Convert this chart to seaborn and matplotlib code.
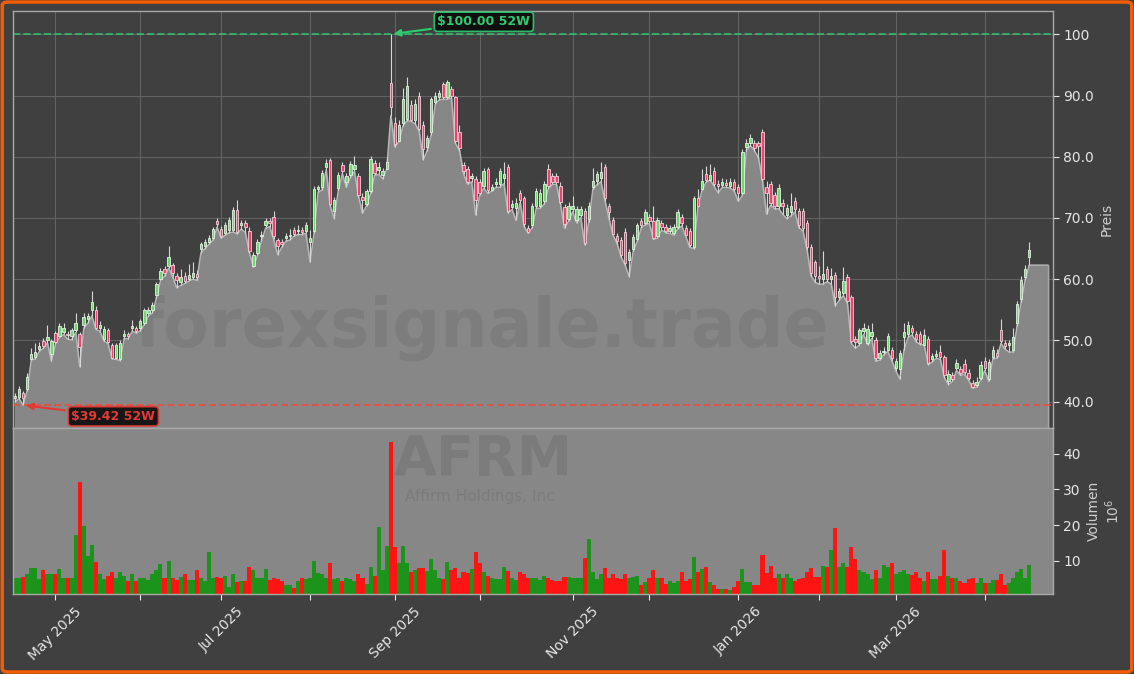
import matplotlib
matplotlib.use("Agg")
import matplotlib.pyplot as plt
import matplotlib.patches as mpatches
import numpy as np
import pandas as pd
import seaborn as sns

sns.set_style("dark")
plt.rcParams["font.family"] = ["DejaVu Sans"]

ticker = "AFRM"
company = "Affirm Holdings, Inc"
watermark = "forexsignale.trade"
first_day = "2025-04-16"
holidays = ["2025-04-18", "2025-05-26", "2025-06-19", "2025-07-04", "2025-09-01",
            "2025-11-27", "2025-12-25", "2026-01-01", "2026-01-19", "2026-02-16",
            "2026-04-03"]

opens = [
    40.6, 40.8, 41.4, 42.1, 47.0, 47.3, 48.6, 49.9, 50.1, 47.8,
    51.2, 50.8, 51.4, 51.1, 50.8, 51.7, 51.0, 52.6, 53.5, 55.0,
    55.0, 52.0, 50.2, 51.7, 49.3, 47.2, 46.9, 50.8, 51.0, 52.1,
    52.0, 52.0, 52.9, 54.4, 54.9, 57.4, 60.1, 61.7, 62.2, 62.3,
    60.5, 59.5, 60.5, 60.1, 60.4, 60.8, 64.9, 65.5, 66.1, 66.8,
    69.5, 68.2, 67.6, 68.0, 68.0, 71.3, 68.8, 69.1, 67.9, 62.2,
    64.3, 67.0, 68.8, 69.5, 70.2, 66.4, 66.1, 66.7, 67.0, 68.0,
    67.8, 68.0, 67.9, 66.0, 67.9, 74.7, 75.0, 78.3, 79.4, 71.1,
    74.9, 78.6, 75.9, 77.0, 78.0, 76.8, 73.5, 72.3, 74.4, 78.9,
    77.9, 77.0, 78.0, 92.1, 85.5, 82.5, 85.5, 86.1, 88.5, 86.0,
    90.0, 85.2, 81.6, 84.0, 89.0, 89.7, 91.8, 89.8, 91.0, 89.7,
    84.0, 78.6, 78.0, 76.5, 76.4, 75.9, 75.3, 78.0, 74.6, 75.6,
    75.6, 76.5, 78.3, 71.8, 71.6, 74.0, 73.2, 68.3, 68.8, 72.0,
    72.0, 72.7, 78.0, 76.8, 76.8, 75.3, 71.8, 69.9, 71.5, 69.6,
    70.5, 71.1, 69.9, 75.0, 76.0, 76.5, 78.3, 72.0, 69.6, 67.0,
    66.4, 67.7, 63.1, 65.0, 66.5, 69.5, 69.2, 70.2, 69.5, 67.0,
    69.2, 68.5, 67.9, 67.5, 68.5, 70.1, 68.3, 67.9, 65.2, 73.2,
    74.8, 77.1, 76.2, 77.6, 75.6, 75.4, 75.7, 75.3, 75.9, 75.0,
    74.0, 81.6, 82.2, 82.3, 82.2, 84.1, 75.0, 75.5, 73.7, 71.9,
    72.5, 70.5, 71.0, 72.8, 71.1, 71.1, 69.1, 65.2, 62.8, 60.5,
    60.0, 61.7, 60.0, 60.7, 57.1, 57.7, 60.3, 57.1, 50.3, 49.6,
    51.5, 49.6, 50.7, 50.1, 47.2, 48.1, 48.5, 48.5, 45.5, 45.3,
    50.5, 51.0, 52.0, 51.1, 51.1, 49.3, 50.2, 46.9, 47.5, 48.1,
    47.3, 43.3, 44.3, 45.5, 45.4, 46.1, 44.7, 43.0, 42.7, 43.9,
    46.7, 43.7, 47.3, 48.0, 51.7, 49.5, 49.3, 48.5, 52.9, 56.8,
    60.4, 63.7,
]
closes = [
    41.0, 42.1, 40.6, 44.1, 47.8, 48.1, 49.1, 49.1, 50.5, 49.9,
    49.7, 52.3, 52.1, 50.9, 51.7, 52.9, 49.0, 53.9, 54.0, 56.2,
    52.0, 52.6, 51.9, 49.7, 47.2, 49.3, 49.6, 51.1, 50.7, 52.4,
    51.5, 53.1, 55.0, 54.9, 55.8, 59.2, 61.4, 61.0, 63.7, 61.0,
    59.8, 60.4, 59.7, 60.7, 61.0, 60.3, 65.8, 66.1, 66.7, 68.2,
    69.0, 67.0, 68.8, 69.6, 71.3, 67.7, 69.2, 68.5, 64.6, 64.0,
    66.1, 67.3, 69.5, 69.1, 67.0, 65.5, 65.8, 67.0, 67.3, 67.4,
    68.1, 67.7, 68.8, 66.8, 74.7, 75.0, 77.3, 79.0, 72.3, 72.9,
    77.0, 77.6, 76.8, 78.8, 78.6, 73.8, 72.9, 74.4, 79.6, 77.4,
    78.3, 77.6, 79.2, 88.2, 82.0, 85.2, 89.4, 91.5, 86.0, 88.6,
    84.6, 81.3, 83.0, 89.4, 90.0, 90.4, 89.8, 92.2, 90.0, 82.5,
    81.4, 77.7, 75.9, 76.8, 72.9, 74.1, 77.7, 74.5, 75.0, 75.9,
    77.7, 77.2, 71.1, 72.3, 72.4, 72.9, 69.0, 67.7, 72.0, 74.4,
    74.1, 75.5, 75.2, 75.9, 75.9, 72.6, 69.0, 72.0, 71.9, 71.4,
    71.4, 65.9, 72.0, 76.0, 77.1, 77.5, 73.2, 71.0, 67.4, 66.2,
    64.0, 62.6, 64.4, 66.9, 68.8, 68.8, 71.0, 69.5, 66.8, 69.6,
    68.5, 67.9, 68.3, 68.5, 71.0, 69.1, 67.3, 65.6, 73.2, 72.0,
    76.0, 76.2, 77.0, 75.6, 75.2, 75.9, 75.4, 75.9, 74.7, 74.0,
    80.7, 82.3, 83.0, 81.4, 81.8, 76.4, 74.0, 72.5, 71.9, 74.9,
    72.0, 71.7, 72.0, 71.4, 68.8, 68.3, 65.2, 61.0, 60.5, 60.2,
    60.8, 60.0, 60.6, 57.1, 58.0, 59.7, 56.5, 49.9, 49.7, 51.7,
    52.0, 51.9, 51.3, 47.2, 47.9, 48.3, 50.7, 47.1, 46.7, 47.9,
    51.3, 52.5, 51.4, 50.2, 49.6, 50.9, 46.3, 47.4, 47.8, 47.3,
    44.3, 44.5, 43.7, 46.3, 44.7, 44.9, 43.9, 42.4, 43.2, 46.0,
    45.5, 46.5, 48.5, 47.4, 49.9, 49.1, 49.6, 50.5, 55.9, 59.9,
    61.6, 64.7,
]
highs = [
    41.4, 42.6, 41.8, 44.7, 48.7, 49.6, 49.7, 50.4, 52.6, 50.3,
    51.6, 52.8, 52.9, 51.5, 52.0, 54.4, 51.3, 54.5, 54.4, 58.1,
    55.6, 53.2, 52.3, 52.0, 49.6, 49.6, 50.0, 51.7, 51.3, 53.4,
    52.4, 53.5, 55.3, 55.4, 56.3, 59.6, 61.8, 62.1, 65.5, 62.7,
    61.0, 61.6, 61.2, 62.5, 62.8, 61.5, 66.1, 66.6, 67.3, 68.6,
    70.0, 68.7, 69.3, 70.2, 71.8, 72.9, 69.6, 69.6, 68.5, 64.5,
    66.5, 67.8, 70.0, 70.0, 71.1, 66.8, 66.6, 67.5, 68.2, 68.6,
    68.8, 68.6, 69.4, 68.0, 75.2, 75.4, 77.8, 79.7, 79.8, 73.4,
    77.5, 79.1, 77.3, 79.3, 80.1, 77.3, 74.0, 74.8, 80.2, 79.5,
    79.1, 78.2, 80.0, 100.0, 86.5, 86.0, 91.2, 93.0, 89.3, 89.5,
    90.6, 85.8, 83.6, 89.8, 90.5, 90.9, 92.2, 92.6, 91.5, 90.0,
    85.2, 79.2, 78.5, 77.4, 76.9, 76.3, 78.2, 78.4, 75.6, 76.5,
    78.2, 79.2, 78.8, 73.0, 73.3, 74.6, 73.6, 68.8, 72.5, 74.9,
    74.7, 76.0, 78.8, 77.3, 77.3, 75.8, 72.3, 72.6, 73.6, 71.9,
    71.9, 71.6, 72.6, 78.2, 77.6, 79.2, 78.8, 72.5, 70.1, 67.5,
    66.9, 68.3, 64.9, 67.4, 69.2, 70.0, 71.5, 70.6, 71.9, 70.2,
    69.7, 69.0, 68.8, 69.0, 71.5, 70.6, 68.8, 68.4, 73.6, 74.8,
    78.0, 78.5, 78.8, 78.3, 76.2, 76.6, 76.3, 76.6, 76.4, 75.5,
    81.2, 82.9, 83.7, 82.8, 82.6, 84.5, 76.1, 76.0, 74.2, 75.5,
    73.1, 72.3, 74.1, 73.4, 71.6, 71.6, 69.6, 65.7, 63.2, 62.2,
    64.6, 62.2, 61.9, 61.2, 58.6, 62.0, 60.9, 57.5, 50.8, 52.1,
    52.9, 52.5, 52.8, 50.6, 48.5, 48.9, 51.2, 49.0, 47.2, 48.5,
    52.9, 53.2, 52.6, 51.6, 51.6, 51.8, 50.7, 48.0, 48.4, 49.3,
    47.7, 45.1, 44.8, 46.9, 45.9, 46.9, 45.3, 43.6, 44.0, 46.6,
    47.3, 47.0, 49.1, 48.6, 53.5, 50.0, 50.1, 52.0, 56.5, 60.5,
    62.3, 66.0,
]
lows = [
    40.0, 40.5, 39.42, 41.8, 46.8, 47.0, 48.2, 48.7, 49.6, 46.6,
    49.4, 50.5, 51.0, 50.2, 50.1, 51.3, 45.7, 52.0, 52.8, 54.0,
    51.8, 51.5, 49.9, 49.5, 47.0, 46.9, 46.7, 50.3, 50.3, 51.5,
    51.2, 51.6, 52.6, 54.0, 54.5, 57.0, 59.8, 60.5, 61.8, 60.4,
    58.6, 59.0, 59.3, 59.7, 60.0, 59.8, 64.3, 65.0, 65.7, 66.4,
    68.5, 66.7, 67.2, 67.6, 67.7, 67.4, 68.2, 67.6, 64.3, 62.0,
    63.9, 66.3, 68.3, 68.6, 66.5, 64.0, 65.2, 66.2, 66.4, 67.0,
    67.3, 67.3, 67.5, 62.8, 67.5, 74.2, 74.6, 77.8, 72.0, 69.9,
    74.5, 77.2, 75.0, 76.6, 77.6, 73.5, 70.8, 72.0, 74.0, 77.0,
    77.1, 76.4, 78.0, 86.7, 81.6, 82.5, 85.0, 85.9, 85.8, 85.4,
    84.2, 79.5, 81.0, 83.6, 88.6, 89.3, 89.4, 89.4, 89.6, 82.2,
    81.0, 77.2, 75.5, 75.9, 70.5, 73.7, 74.9, 74.0, 74.4, 75.0,
    75.0, 75.6, 70.8, 71.4, 69.6, 72.5, 68.6, 67.5, 68.4, 71.6,
    71.6, 72.3, 74.8, 75.5, 75.5, 72.2, 68.3, 69.5, 71.0, 69.2,
    70.1, 65.6, 69.4, 74.7, 75.4, 75.9, 72.8, 69.9, 67.2, 65.8,
    63.6, 62.3, 60.4, 64.6, 66.2, 68.4, 68.9, 69.1, 66.5, 66.7,
    68.0, 67.6, 67.5, 67.2, 68.2, 68.7, 67.0, 65.2, 65.0, 71.8,
    74.5, 75.8, 76.2, 75.2, 74.1, 75.0, 75.0, 74.9, 74.4, 72.7,
    73.7, 81.0, 81.8, 81.0, 79.8, 76.0, 70.6, 72.1, 71.5, 71.5,
    70.6, 69.9, 70.3, 71.0, 68.4, 67.9, 64.8, 60.6, 59.5, 59.2,
    59.2, 59.6, 59.2, 55.6, 56.6, 57.3, 56.1, 49.5, 48.7, 49.3,
    51.0, 49.3, 50.3, 46.6, 46.8, 47.7, 48.2, 46.7, 45.0, 43.7,
    48.4, 50.5, 50.9, 49.8, 49.3, 49.3, 46.0, 46.5, 47.1, 46.9,
    43.9, 42.8, 43.3, 45.1, 44.3, 44.5, 43.5, 42.2, 42.4, 43.6,
    45.1, 43.3, 47.0, 47.1, 49.5, 48.6, 48.1, 48.1, 52.4, 56.3,
    59.9, 62.3,
]
volumes = [  # millions
    5.0, 5.2, 5.5, 6.3, 7.8, 7.8, 4.7, 7.3, 6.3, 6.3,
    6.3, 7.6, 5.0, 5.2, 5.2, 17.1, 32.1, 19.7, 11.4, 14.5,
    9.6, 6.3, 4.7, 5.8, 6.8, 5.2, 6.8, 5.8, 4.2, 6.1,
    4.2, 5.0, 5.2, 4.5, 6.3, 7.3, 8.9, 5.0, 9.9, 5.0,
    4.5, 5.5, 6.3, 4.5, 4.4, 7.3, 5.0, 4.2, 12.5, 5.0,
    5.5, 5.2, 5.8, 2.7, 6.1, 4.0, 4.2, 4.2, 8.1, 7.3,
    5.2, 5.0, 7.6, 4.4, 5.0, 4.7, 4.2, 3.2, 3.0, 2.4,
    4.2, 5.0, 4.7, 5.0, 9.9, 6.6, 6.1, 5.2, 9.4, 4.7,
    5.0, 4.2, 5.2, 4.7, 4.2, 6.1, 5.2, 3.5, 8.3, 5.8,
    19.5, 7.3, 14.2, 43.3, 13.7, 9.4, 14.0, 9.2, 6.8, 7.3,
    7.8, 8.0, 7.2, 10.4, 7.3, 5.0, 4.7, 9.6, 7.3, 7.8,
    5.2, 6.8, 6.6, 7.6, 12.3, 9.4, 6.8, 5.8, 5.2, 4.7,
    4.7, 8.3, 7.0, 5.0, 4.4, 6.8, 6.3, 5.2, 5.2, 5.0,
    4.4, 5.8, 5.0, 4.4, 4.2, 4.2, 5.5, 5.5, 5.0, 5.0,
    5.2, 10.7, 16.1, 6.8, 4.7, 6.1, 7.8, 5.2, 6.3, 5.0,
    4.7, 6.3, 5.0, 5.5, 5.8, 3.0, 4.0, 5.0, 7.3, 5.0,
    5.0, 3.5, 4.2, 3.7, 4.2, 6.8, 4.2, 4.7, 10.9, 6.8,
    7.6, 8.3, 3.9, 3.2, 2.0, 2.1, 2.1, 1.6, 2.7, 4.2,
    7.6, 3.9, 3.9, 3.2, 3.2, 11.7, 6.6, 8.5, 5.0, 6.1,
    5.0, 6.3, 5.0, 4.2, 4.7, 5.0, 6.8, 7.8, 5.5, 5.5,
    8.5, 8.3, 13.0, 19.2, 8.1, 9.4, 8.3, 13.8, 10.4, 7.3,
    6.8, 6.3, 4.7, 7.3, 5.2, 8.7, 8.3, 9.2, 6.3, 6.8,
    7.3, 6.3, 6.0, 6.8, 5.0, 4.2, 6.8, 4.7, 4.7, 5.8,
    13.0, 5.8, 5.0, 5.2, 4.2, 3.7, 4.7, 5.2, 3.7, 5.2,
    3.7, 3.7, 4.4, 4.4, 6.1, 3.2, 3.7, 5.2, 6.8, 7.6,
    5.0, 8.7,
]

dates = pd.bdate_range(first_day, periods=len(closes), freq="C", holidays=holidays)
df = pd.DataFrame({"date": dates, "open": opens, "high": highs,
                   "low": lows, "close": closes, "volume": volumes})
df["idx"] = np.arange(len(df))
up = df["close"] >= df["open"]

BG = "#404040"
TXT = "#e6e6e6"
SPINE = "#a8a8a8"
price_lim = (35.7, 103.8)
vol_lim = (0.6, 47.3)

fig = plt.figure(figsize=(11.34, 6.74), dpi=100, facecolor=BG)
ax = fig.add_axes([13 / 1134, 1 - 428 / 674, 1040 / 1134, 417 / 674])
axv = fig.add_axes([13 / 1134, 1 - 594 / 674, 1040 / 1134, 166 / 674], sharex=ax)

# price panel
ax.set_facecolor(BG)
x_fill = np.append(df["idx"].values, len(df) + 3.7)
y_fill = np.append(df["low"].values, df["low"].iloc[-1])
ax.fill_between(x_fill, y_fill, price_lim[0], color="#878787", zorder=1)
sns.lineplot(x=x_fill, y=y_fill, ax=ax, color="#b9b9b9", lw=1, zorder=2)
ax.vlines(x_fill[-1], price_lim[0], y_fill[-1], color="#a5a5a5", lw=1, zorder=2)

ax.text(0.451, 0.24, watermark, transform=ax.transAxes, fontsize=48,
        fontweight="bold", color="#404040", alpha=0.13, ha="center", va="center", zorder=1.5)

ax.vlines(df["idx"], df["low"], df["high"], color="#d6d6d6", lw=0.8, zorder=3)
ax.bar(df["idx"][up], (df["close"] - df["open"])[up], bottom=df["open"][up], width=0.6,
       color="#72d672", edgecolor="#e4f4e4", lw=0.6, zorder=4)
ax.bar(df["idx"][~up], (df["open"] - df["close"])[~up], bottom=df["close"][~up], width=0.6,
       color="#e8466e", edgecolor="#f6cfd9", lw=0.6, zorder=4)

hi_i, lo_i = int(df["high"].idxmax()), int(df["low"].idxmin())
hi, lo = df["high"].max(), df["low"].min()
ax.axhline(hi, color="#2ecc71", ls="--", lw=1.4, alpha=0.75, zorder=2.5)
ax.axhline(lo, color="#e74c3c", ls="--", lw=1.4, alpha=0.85, zorder=2.5)
ax.annotate(f"${hi:.2f} 52W", xy=(hi_i, hi), xytext=(67, 9), textcoords="offset points",
            ha="center", va="center", fontsize=9, fontweight="bold", color="#2ecc71",
            bbox=dict(boxstyle="round,pad=0.25", fc="#0a0a0a", ec="#2ecc71", lw=1.2, alpha=0.9),
            arrowprops=dict(arrowstyle="-|>", color="#2ecc71", lw=1.5, mutation_scale=10),
            zorder=6)
ax.annotate(f"${lo:.2f} 52W", xy=(lo_i, lo), xytext=(65, -8), textcoords="offset points",
            ha="center", va="center", fontsize=9, fontweight="bold", color="#e53935",
            bbox=dict(boxstyle="round,pad=0.25", fc="#0a0a0a", ec="#e53935", lw=1.2, alpha=0.9),
            arrowprops=dict(arrowstyle="-|>", color="#e53935", lw=1.5, mutation_scale=10),
            zorder=6)

ax.set_ylim(*price_lim)
ax.set_xlim(-0.5, 256.9)
ax.set_yticks(np.arange(40, 101, 10))
ax.yaxis.set_major_formatter(plt.FuncFormatter(lambda v, p: f"{v:.0f}" if v >= 100 else f"{v:.1f}"))
ax.yaxis.tick_right()
ax.yaxis.set_label_position("right")
ax.set_ylabel("Preis", color="#cfcfcf", fontsize=10)
ax.grid(True, color="#626262", lw=0.8)
ax.tick_params(axis="y", colors=TXT, labelsize=10, length=4, right=True)
ax.tick_params(axis="x", labelbottom=False, bottom=False)

# volume panel
axv.set_facecolor("#878787")
axv.bar(df["idx"], df["volume"], width=1.0, color=np.where(up, "#1c941c", "#ff1414"),
        edgecolor="none", lw=0, zorder=2)
axv.text(0.452, 0.81, ticker, transform=axv.transAxes, fontsize=40, fontweight="bold",
         color="#404040", alpha=0.16, ha="center", va="center", zorder=1)
axv.text(0.449, 0.59, company, transform=axv.transAxes, fontsize=11,
         color="#404040", alpha=0.16, ha="center", va="center", zorder=1)
axv.set_ylim(*vol_lim)
axv.set_yticks([10, 20, 30, 40])
axv.yaxis.tick_right()
axv.yaxis.set_label_position("right")
axv.set_ylabel("Volumen\n$10^6$", color="#cfcfcf", fontsize=10)
axv.grid(False)

month_first = df.groupby(df["date"].dt.to_period("M"))["idx"].first().values[1:]
labels = [df["date"][i].strftime("%b %Y") if k % 2 == 0 else "" for k, i in enumerate(month_first)]
axv.set_xticks(month_first)
axv.set_xticklabels(labels, rotation=45, ha="center")
axv.tick_params(axis="both", colors=TXT, labelsize=10, length=4, bottom=True, right=True)

for a in (ax, axv):
    for s in a.spines.values():
        s.set_color(SPINE)
        s.set_linewidth(1)

fig.add_artist(mpatches.FancyBboxPatch((0.002, 0.003), 0.996, 0.994,
                                       boxstyle="round,pad=0,rounding_size=0.005",
                                       transform=fig.transFigure, fill=False,
                                       edgecolor="#f25c05", lw=2.5))

fig.savefig("out.png", dpi=100, facecolor=BG)
